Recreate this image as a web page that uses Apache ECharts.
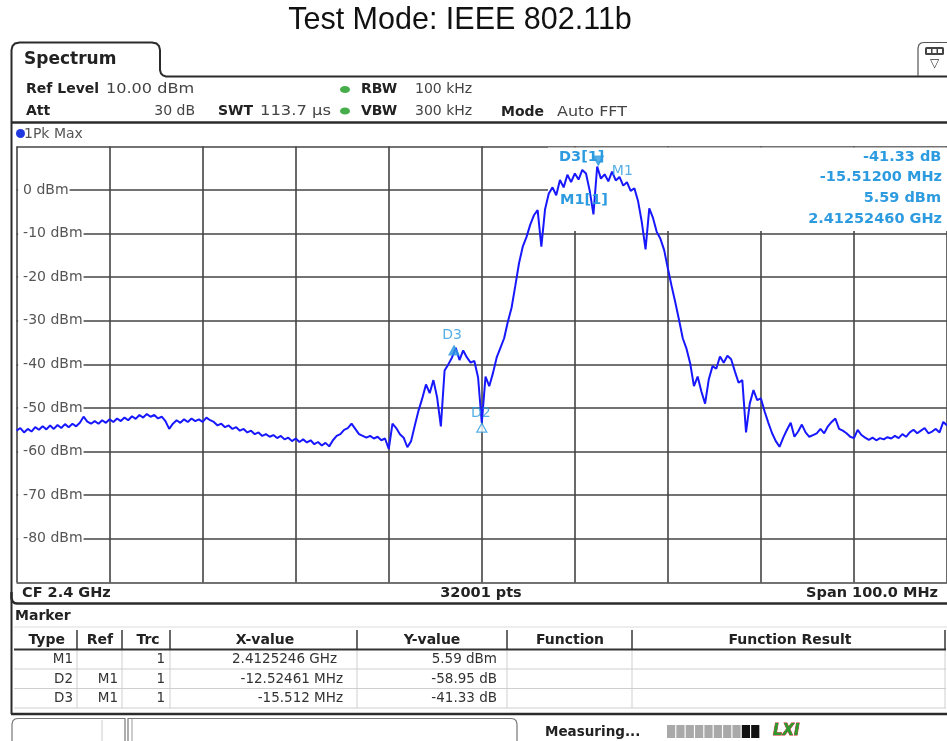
<!DOCTYPE html>
<html>
<head>
<meta charset="utf-8">
<script src="https://cdn.jsdelivr.net/npm/echarts@6/dist/echarts.min.js"></script>
<style>
  html, body { margin: 0; padding: 0; background: #fff; }
  #chart { width: 947px; height: 741px; }
</style>
</head>
<body>
<div id="chart"></div>
<script>
// spectrum trace (peak hold, 1 point every 0.4 MHz)
const cfMHz = 2400;
const traceStartMHz = -50;
const traceStepMHz = 0.4;
const traceDbm = [
  -55.2, -54.6, -55.6, -54.8, -55.4, -54.4, -55.0, -54.2, -54.9, -54.0,
  -54.8, -53.9, -54.6, -53.7, -54.4, -53.6, -54.2, -53.4, -52.0, -53.1,
  -53.6, -53.0, -53.6, -52.8, -53.4, -52.6, -53.2, -52.4, -53.0, -52.2,
  -52.8, -51.9, -52.5, -51.6, -52.2, -51.4, -52.0, -51.6, -52.4, -52.0,
  -53.0, -54.8, -53.6, -52.8, -53.4, -52.6, -53.2, -52.4, -53.0, -52.6,
  -53.2, -52.2, -52.8, -53.2, -54.0, -53.6, -54.4, -54.0, -54.8, -54.4,
  -55.2, -54.8, -55.6, -55.2, -56.0, -55.6, -56.4, -56.0, -56.6, -56.2,
  -56.9, -56.4, -57.2, -56.8, -57.6, -57.0, -57.8, -57.2, -57.9, -57.4,
  -58.3, -57.8, -58.6, -58.0, -58.8, -57.4, -56.4, -56.0, -55.0, -54.6,
  -53.6, -54.8, -56.0, -56.4, -56.8, -56.4, -57.0, -56.6, -57.4, -57.0,
  -59.4, -53.6, -54.6, -56.0, -56.8, -59.0, -57.6, -54.0, -50.6, -47.8,
  -44.6, -46.6, -43.6, -47.6, -54.2, -41.4, -40.0, -38.4, -36.2, -39.0,
  -36.8, -38.4, -39.6, -39.2, -43.0, -53.4, -42.8, -45.0, -42.0, -38.4,
  -36.2, -34.0, -30.2, -27.0, -22.0, -16.8, -13.0, -10.8, -8.0, -5.8,
  -4.6, -13.0, -4.4, -0.8, 0.6, -1.2, 2.3, 0.6, 3.5, 1.8,
  3.8, 2.4, 4.6, 3.8, -0.2, -5.6, 5.4, 2.6, 3.6, 2.0,
  4.2, 2.2, 3.0, 1.0, 1.8, -0.2, 0.4, -2.6, -7.4, -13.6,
  -4.2, -6.4, -9.6, -11.2, -13.8, -18.0, -22.0, -25.8, -29.8, -34.0,
  -36.4, -39.8, -45.0, -42.8, -46.2, -49.0, -43.4, -40.4, -41.0, -38.2,
  -39.6, -38.0, -38.8, -41.6, -44.2, -43.6, -55.6, -49.0, -45.9, -48.2,
  -47.8, -50.8, -53.4, -55.8, -57.6, -58.9, -56.8, -55.0, -53.4, -56.6,
  -55.4, -53.8, -55.6, -56.6, -56.2, -55.8, -54.8, -55.8, -54.2, -53.2,
  -52.4, -54.8, -55.2, -55.8, -56.6, -56.9, -55.0, -56.2, -56.8, -57.3,
  -56.8, -57.4, -56.9, -57.2, -56.7, -57.0, -56.4, -56.9, -56.0, -56.6,
  -55.6, -55.0, -55.8, -55.2, -54.6, -55.8, -55.4, -54.8, -55.6, -53.2, -54.0
];

// marker table
const markerType = ['M1', 'D2', 'D3'];
const markerRef = ['', 'M1', 'M1'];
const markerTrc = ['1', '1', '1'];
const markerXText = ['2.4125246 GHz', '-12.52461 MHz', '-15.512 MHz'];
const markerYText = ['5.59 dBm', '-58.95 dB', '-41.33 dB'];
const markerXMHz = [2412.5246, -12.52461, -15.512]; // M1 absolut, Dx relativ zu M1
const markerYdB = [5.59, -58.95, -41.33];

const BLUE = '#1818ff';
const MK = '#2d9be0';
const FRAME = '#2b2b2b';
const FONT = 'DejaVu Sans';

const traceData = traceDbm.map((v, i) => [traceStartMHz + i * traceStepMHz, v]);

const m1 = [markerXMHz[0] - cfMHz, markerYdB[0]];
const markerPts = markerType.map((t, i) =>
  markerRef[i] ? [m1[0] + markerXMHz[i], m1[1] + markerYdB[i]] : m1.slice());

const markerStyle = {
  M1: { symbolRotate: 180, symbolOffset: [0, -5], fill: MK, labelOffset: [24, 11] },
  D2: { symbolRotate: 0, symbolOffset: [0, 5], fill: '#fff', labelOffset: [-1, -14.5] },
  D3: { symbolRotate: 0, symbolOffset: [0, 4.5], fill: MK, labelOffset: [-2, -14.5] }
};

const markerData = markerType.map((t, i) => {
  const s = markerStyle[t];
  return {
    value: markerPts[i],
    symbol: 'triangle',
    symbolSize: [10, 9],
    symbolRotate: s.symbolRotate,
    symbolOffset: s.symbolOffset,
    itemStyle: { color: s.fill, borderColor: MK, borderWidth: 1.2 },
    label: {
      show: true, formatter: t, position: 'inside', offset: s.labelOffset,
      color: MK, fontSize: 14, fontFamily: FONT
    }
  };
});

// helper für texte im rahmen
function txt(x, y, s, o = {}) {
  const align = o.align || 'left';
  return {
    type: 'text', x: x, y: y, z: o.z || 10, silent: true, scaleX: o.sx || 1,
    style: {
      text: s, fill: o.fill || '#222',
      fontSize: o.size || 14, fontFamily: o.family || FONT,
      fontWeight: o.bold ? 'bold' : 'normal', fontStyle: o.italic ? 'italic' : 'normal',
      align: align, verticalAlign: 'middle',
      textAlign: align, textVerticalAlign: 'middle',
      stroke: o.stroke, lineWidth: o.lineWidth || 0
    }
  };
}
function line(x1, y1, x2, y2, color, w) {
  return { type: 'line', z: 9, silent: true, shape: { x1, y1, x2, y2 },
    style: { stroke: color, lineWidth: w } };
}
function pl(points, color, w) {
  return { type: 'polyline', z: 9, silent: true, shape: { points: points },
    style: { stroke: color, lineWidth: w, fill: null } };
}

const g = [];
// titel
g.push(txt(460, 21, 'Test Mode: IEEE 802.11b', { size: 30.5, family: 'Liberation Sans', align: 'center', fill: '#111' }));

// tab + rahmen
g.push(pl([[11.5, 714], [11.5, 50], [12.5, 46], [15, 43.5], [19.5, 42.5], [152, 42.5], [156.5, 43.5],
  [159, 46], [160, 50], [160, 70], [161, 73.5], [163, 75.5], [166, 76.5], [951, 76.5]], FRAME, 2));
g.push(pl([[918, 76], [918, 48], [919, 44.5], [921, 43], [924, 42.5], [951, 42.5]], '#555', 1.2));
g.push({ type: 'rect', z: 9, silent: true, shape: { x: 925, y: 47, width: 19, height: 8, r: 1.5 }, style: { fill: '#444' } });
[927, 932.5, 938].forEach(x => g.push({ type: 'rect', z: 10, silent: true,
  shape: { x: x, y: 49, width: 4, height: 4 }, style: { fill: '#fff' } }));
g.push(txt(934.5, 64, '▽', { size: 12, align: 'center', fill: '#333' }));
g.push(txt(24, 60, 'Spectrum', { size: 17, bold: true, fill: '#222' }));

// einstellungen
g.push(txt(26, 89, 'Ref Level', { bold: true }));
g.push(txt(106, 89, '10.00 dBm', { fill: '#444', sx: 1.15 }));
g.push(txt(26, 111, 'Att', { bold: true }));
g.push(txt(195, 111, '30 dB', { fill: '#444', align: 'right' }));
g.push(txt(218, 111, 'SWT', { bold: true }));
g.push(txt(260, 111, '113.7 µs', { fill: '#444', sx: 1.17 }));
[89.5, 111].forEach(y => g.push({ type: 'ellipse', z: 10, silent: true,
  shape: { cx: 345, cy: y, rx: 5, ry: 3.6 }, style: { fill: '#45ad4a' } }));
g.push(txt(361, 89, 'RBW', { bold: true }));
g.push(txt(415, 89, '100 kHz', { fill: '#444' }));
g.push(txt(361, 111, 'VBW', { bold: true }));
g.push(txt(415, 111, '300 kHz', { fill: '#444' }));
g.push(txt(501, 112, 'Mode', { bold: true }));
g.push(txt(557, 112, 'Auto FFT', { fill: '#444', sx: 1.14 }));
g.push(line(11, 122.5, 951, 122.5, FRAME, 2.5));

// trace info
g.push({ type: 'circle', z: 10, silent: true, shape: { cx: 20.5, cy: 133.5, r: 4.5 }, style: { fill: '#2038e0' } });
g.push(txt(24, 134, '1Pk Max', { fill: '#555' }));

// marker-ausgabe oben rechts, deckt das gitter ab
g.push({ type: 'rect', z: 1, silent: true, shape: { x: 548, y: 147.5, width: 403, height: 83.5 }, style: { fill: '#fff' } });
g.push(txt(559, 157.5, 'D3[1]', { bold: true, fill: MK, size: 14.5 }));
g.push(txt(863, 157.5, markerYText[2], { bold: true, fill: MK, size: 14.5 }));
g.push(txt(942, 177.5, markerXMHz[2].toFixed(5) + ' MHz', { bold: true, fill: MK, size: 14.5, align: 'right' }));
g.push(txt(560, 200, 'M1[1]', { bold: true, fill: MK, size: 14.5 }));
g.push(txt(941, 198.5, markerYText[0], { bold: true, fill: MK, size: 14.5, align: 'right' }));
g.push(txt(942, 219, (markerXMHz[0] / 1000).toFixed(8) + ' GHz', { bold: true, fill: MK, size: 14.5, align: 'right' }));

// fußzeile der grafik
g.push(txt(22, 593, 'CF ' + (cfMHz / 1000).toFixed(1) + ' GHz', { bold: true, size: 14.5 }));
g.push(txt(481, 593, '32001 pts', { bold: true, size: 14.5, align: 'center' }));
g.push(txt(938, 593, 'Span 100.0 MHz', { bold: true, size: 14.5, align: 'right' }));
g.push(pl([[11.5, 592], [11.5, 598], [12.5, 601.5], [14.5, 603], [17, 603.5], [951, 603.5]], FRAME, 2.5));

// marker tabelle
g.push(txt(15, 616.5, 'Marker', { bold: true }));
g.push(line(14, 627, 951, 627, '#dcdcdc', 1));
const colSep = [77, 122, 170, 357, 507, 632, 945];
const headCx = [46.7, 100, 148, 265, 432, 570, 790];
const heads = ['Type', 'Ref', 'Trc', 'X-value', 'Y-value', 'Function', 'Function Result'];
heads.forEach((h, i) => g.push(txt(headCx[i], 640, h, { bold: true, align: 'center', size: 14 })));
colSep.forEach(x => {
  g.push(line(x, 630, x, 649, '#444', 1.6));
  g.push(line(x, 650, x, 708, '#cfcfcf', 1));
});
g.push(line(14, 649.5, 946, 649.5, '#333', 2));
[669, 688.5, 708].forEach(y => g.push(line(14, y, 946, y, '#cfcfcf', 1)));
const rowY = [659.5, 679, 698.5];
const xValRight = [337, 343, 343];
markerType.forEach((t, i) => {
  const y = rowY[i];
  g.push(txt(73, y, t, { fill: '#333', align: 'right', size: 13.5 }));
  g.push(txt(118, y, markerRef[i], { fill: '#333', align: 'right', size: 13.5 }));
  g.push(txt(165, y, markerTrc[i], { fill: '#333', align: 'right', size: 13.5 }));
  g.push(txt(xValRight[i], y, markerXText[i], { fill: '#333', align: 'right', size: 13.5 }));
  g.push(txt(497, y, markerYText[i], { fill: '#333', align: 'right', size: 13.5 }));
});
g.push(line(11, 714, 951, 714, FRAME, 2.5));

// statuszeile
g.push(pl([[12, 742], [12, 724], [13, 720.5], [15, 719], [18, 718.5], [125, 718.5], [125, 742]], '#777', 1.2));
g.push(line(102, 720, 102, 741, '#ccc', 1));
g.push(pl([[128, 742], [128, 718.5], [511, 718.5], [514, 719], [516, 720.5], [517, 724], [517, 742]], '#777', 1.2));
g.push(line(132, 719, 132, 741, '#999', 1));
g.push(txt(545, 732, 'Measuring...', { bold: true, size: 13.5 }));
for (let k = 0; k < 10; k++) {
  g.push({ type: 'rect', z: 10, silent: true,
    shape: { x: 667 + k * 9.35, y: 725, width: 8.2, height: 13 },
    style: { fill: k < 8 ? '#a9a9a9' : '#111' } });
}
g.push(txt(773, 731.5, 'LXI', { bold: true, italic: true, size: 15, fill: '#2c9a2c', stroke: '#c2272d', lineWidth: 0.8 }));

const chart = echarts.init(document.getElementById('chart'), null, { renderer: 'canvas' });
chart.setOption({
  animation: false,
  backgroundColor: '#fff',
  grid: { left: 16.6, top: 146.4, width: 934, height: 436, containLabel: false },
  xAxis: {
    type: 'value', min: -50, max: 50, interval: 10,
    axisLine: { show: false }, axisTick: { show: false }, axisLabel: { show: false },
    splitLine: { show: true, lineStyle: { color: '#444', width: 1.6 } }
  },
  yAxis: {
    type: 'value', min: -90, max: 10, interval: 10,
    axisLine: { show: false }, axisTick: { show: false },
    axisLabel: {
      inside: true, margin: 1.5, formatter: '{value} dBm',
      showMinLabel: false, showMaxLabel: false,
      color: '#555', fontSize: 14, fontFamily: FONT,
      backgroundColor: '#fff', padding: [1, 1, 1, 5]
    },
    splitLine: { show: true, lineStyle: { color: '#444', width: 1.6 } }
  },
  series: [
    {
      name: 'Trace 1', type: 'line', data: traceData, showSymbol: false, z: 3,
      lineStyle: { color: BLUE, width: 2 }
    },
    {
      name: 'Marker', type: 'scatter', data: markerData, z: 4
    }
  ],
  graphic: { elements: g }
});
</script>
</body>
</html>
